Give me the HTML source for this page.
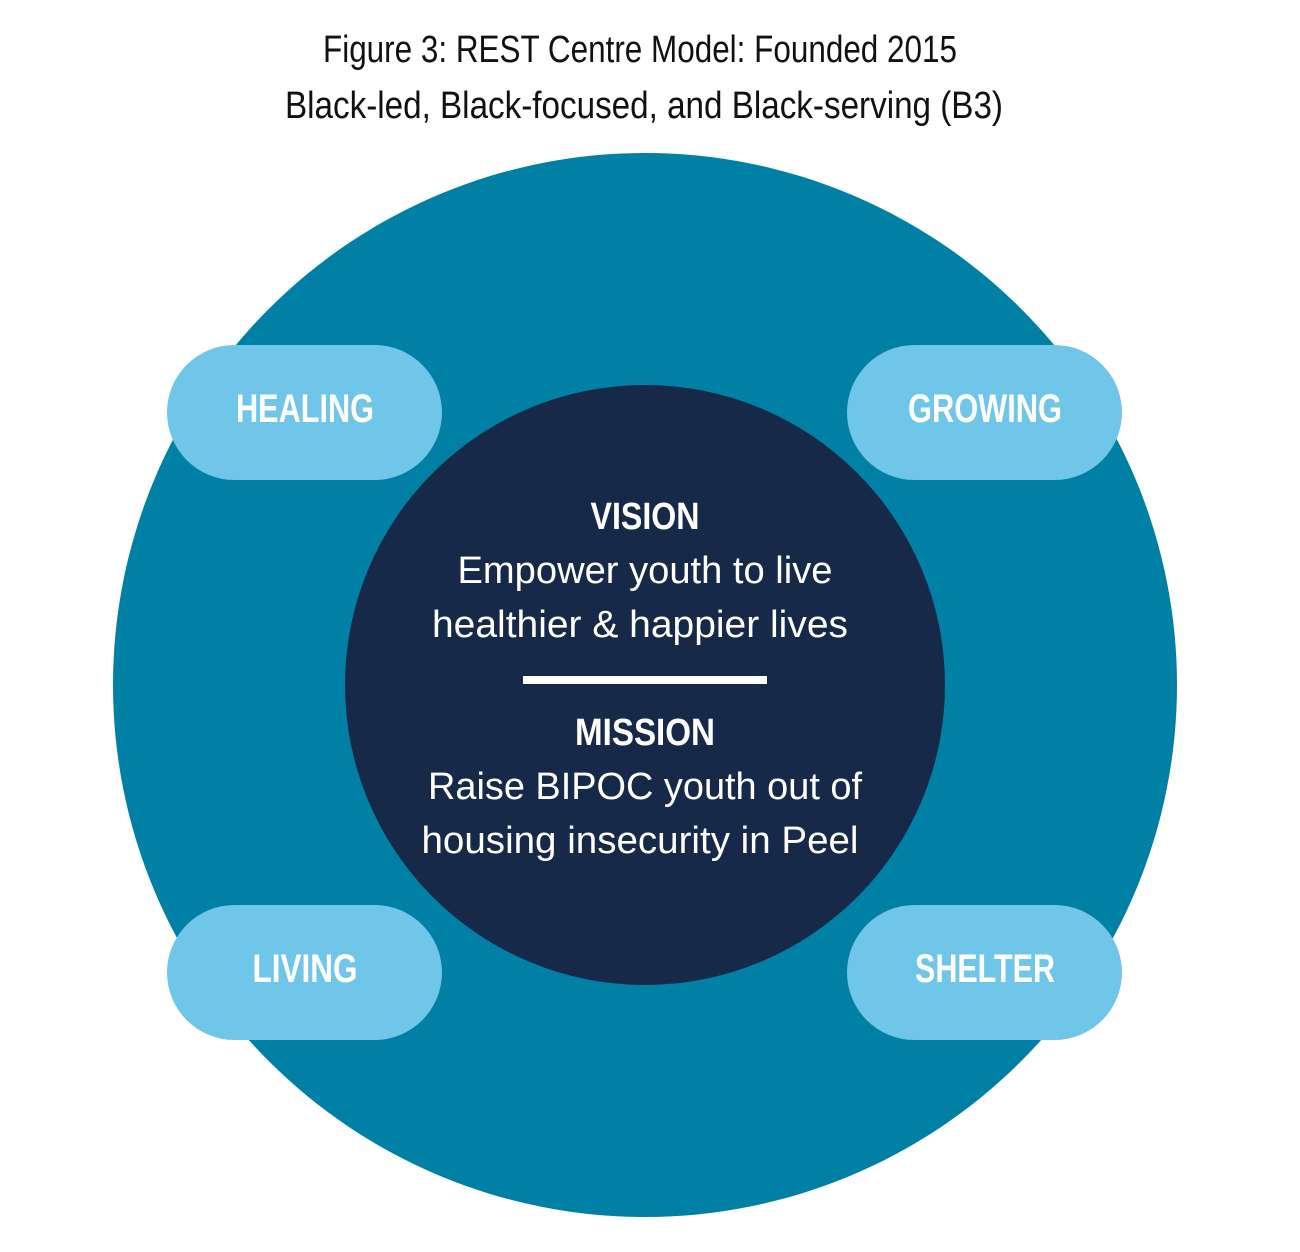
<!DOCTYPE html>
<html><head><meta charset="utf-8"><style>
html,body{margin:0;padding:0;background:#fff;}
svg{display:block;}
text{font-family:"Liberation Sans Narrow","Liberation Sans",sans-serif;}
</style></head><body>
<svg width="1300" height="1252" viewBox="0 0 1300 1252" xmlns="http://www.w3.org/2000/svg">
<text x="640" y="62" font-size="38" fill="#111" text-anchor="middle" textLength="634" lengthAdjust="spacingAndGlyphs">Figure 3: REST Centre Model: Founded 2015</text>
<text x="644" y="118" font-size="38" fill="#111" text-anchor="middle" textLength="718" lengthAdjust="spacingAndGlyphs">Black-led, Black-focused, and Black-serving (B3)</text>
<circle cx="645" cy="685" r="532" fill="#0080a4"/>
<circle cx="645" cy="685" r="300" fill="#172949"/>
<rect x="167" y="345" width="275" height="135" rx="67.5" fill="#6fc6e8"/>
<rect x="847" y="345" width="275" height="135" rx="67.5" fill="#6fc6e8"/>
<rect x="167" y="905" width="275" height="135" rx="67.5" fill="#6fc6e8"/>
<rect x="847" y="905" width="275" height="135" rx="67.5" fill="#6fc6e8"/>
<g font-size="40" font-weight="bold" fill="#fff" text-anchor="middle">
<text x="305" y="422" textLength="138" lengthAdjust="spacingAndGlyphs">HEALING</text>
<text x="985" y="422" textLength="154" lengthAdjust="spacingAndGlyphs">GROWING</text>
<text x="305" y="982" textLength="105" lengthAdjust="spacingAndGlyphs">LIVING</text>
<text x="985" y="982" textLength="140" lengthAdjust="spacingAndGlyphs">SHELTER</text>
</g>
<g fill="#fff" text-anchor="middle">
<text x="645" y="529" font-size="38" font-weight="bold" textLength="109" lengthAdjust="spacingAndGlyphs">VISION</text>
<text x="645" y="583" font-size="38" textLength="375" lengthAdjust="spacingAndGlyphs">Empower youth to live</text>
<text x="640" y="637" font-size="38" textLength="416" lengthAdjust="spacingAndGlyphs">healthier &amp; happier lives</text>
<rect x="523" y="676" width="244" height="8" fill="#fff"/>
<text x="645" y="745" font-size="38" font-weight="bold" textLength="140" lengthAdjust="spacingAndGlyphs">MISSION</text>
<text x="645" y="799" font-size="38" textLength="434" lengthAdjust="spacingAndGlyphs">Raise BIPOC youth out of</text>
<text x="640" y="853" font-size="38" textLength="437" lengthAdjust="spacingAndGlyphs">housing insecurity in Peel</text>
</g>
</svg>
</body></html>
